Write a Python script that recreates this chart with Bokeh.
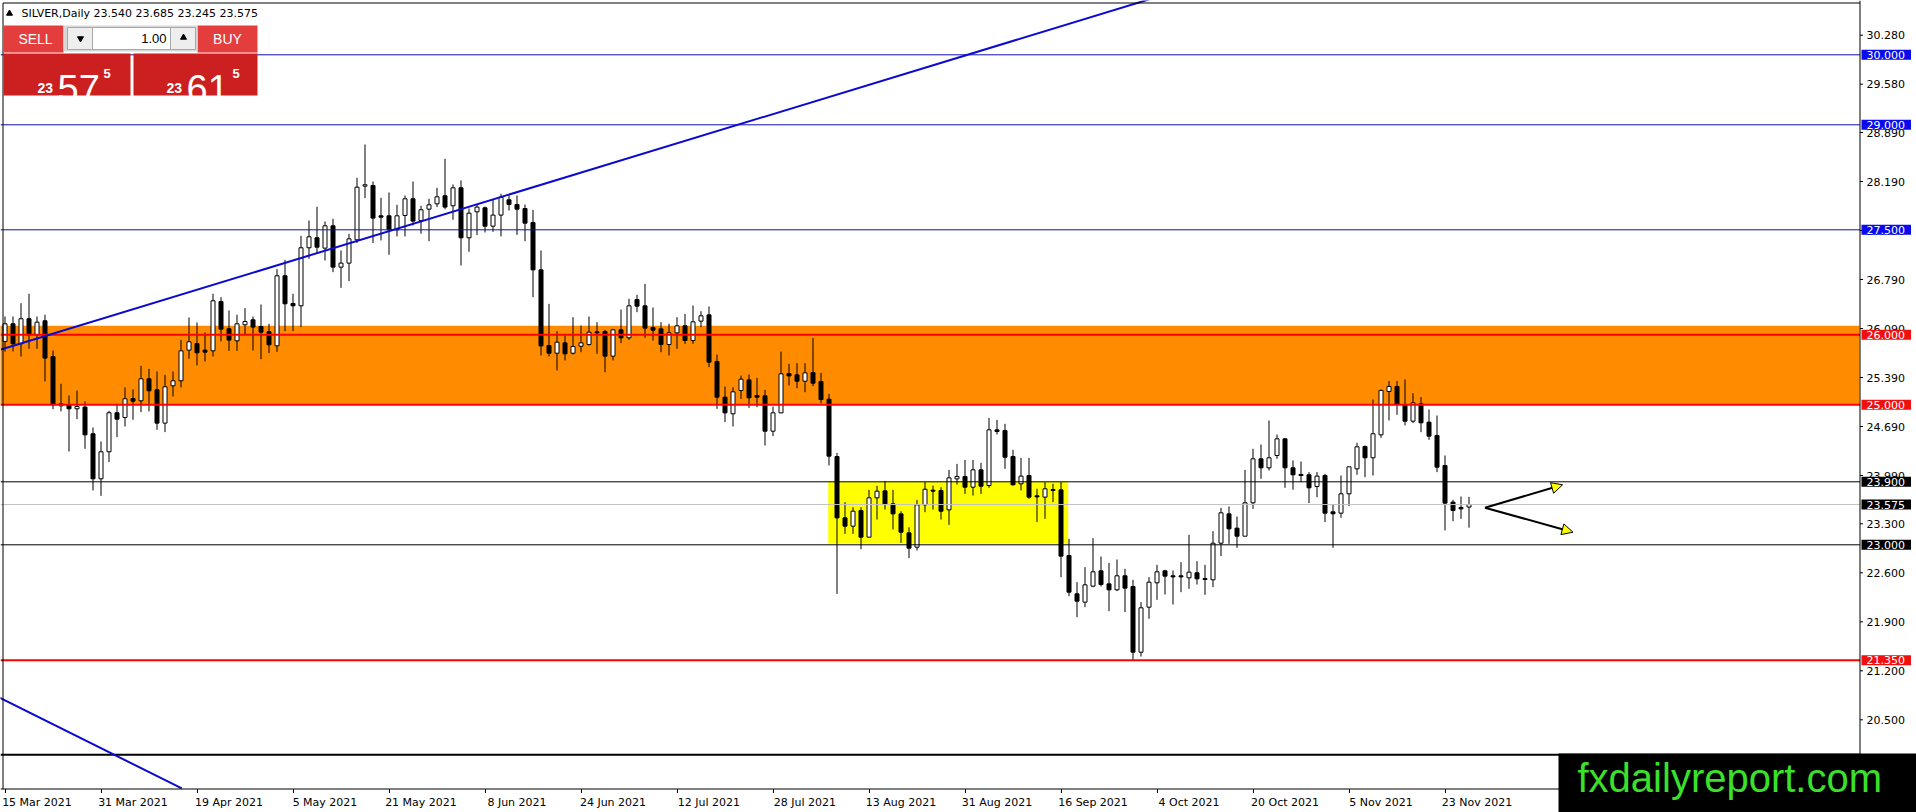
from bokeh.plotting import figure
from bokeh.models import Range1d, FixedTicker, PrintfTickFormatter, Label, Arrow, NormalHead, ColumnDataSource
from bokeh.core.properties import value
from bokeh.embed import file_html
from bokeh.resources import INLINE

# SILVER daily bars, 15 Mar 2021 .. 26 Nov 2021 (bar index = position)
opens = [25.905, 26.157, 25.872, 26.229, 26.000, 26.200, 25.690, 24.986, 25.000, 24.943,
         24.967, 24.586, 23.943, 24.329, 24.886, 24.819, 25.090, 25.057, 25.371, 25.214,
         24.738, 25.271, 25.343, 25.781, 25.876, 25.781, 25.771, 26.476, 26.086, 25.914,
         26.143, 26.214, 26.119, 26.043, 25.843, 26.843, 26.448, 26.414, 27.243, 27.386,
         27.238, 27.557, 26.967, 27.024, 27.357, 28.124, 28.133, 27.700, 27.700, 27.500,
         27.705, 27.943, 27.633, 27.795, 27.871, 27.986, 27.843, 28.100, 27.386, 27.757,
         27.814, 27.552, 27.710, 27.928, 27.861, 27.804, 27.604, 26.928, 25.847, 25.737,
         25.885, 25.737, 25.837, 25.861, 26.042, 26.047, 25.695, 26.071, 25.957, 26.504,
         26.414, 26.104, 26.085, 25.861, 26.028, 26.128, 25.918, 26.195, 26.285, 25.618,
         25.109, 24.871, 25.204, 25.356, 25.133, 25.128, 24.623, 24.885, 25.447, 25.428,
         25.337, 25.461, 25.333, 25.080, 24.261, 23.385, 23.266, 23.490, 23.109, 23.671,
         23.771, 23.585, 23.442, 23.171, 22.966, 23.571, 23.780, 23.775, 23.499, 23.942,
         23.975, 23.823, 24.071, 23.847, 24.642, 24.633, 24.262, 23.871, 23.990, 23.700,
         23.681, 23.776, 23.785, 22.847, 22.300, 22.181, 22.409, 22.628, 22.442, 22.357,
         22.557, 22.404, 21.466, 22.109, 22.457, 22.628, 22.557, 22.557, 22.528, 22.600,
         22.519, 22.500, 23.023, 23.442, 23.238, 23.123, 23.600, 24.228, 24.100, 24.276,
         24.514, 24.100, 24.005, 24.000, 23.833, 23.990, 23.471, 23.452, 23.728, 24.085,
         24.405, 24.243, 24.571, 25.190, 25.262, 25.005, 24.766, 25.014, 24.752, 24.562,
         24.133, 23.610, 23.533, 23.540]
highs = [26.262, 26.262, 26.452, 26.586, 26.262, 26.286, 25.776, 25.300, 25.133, 25.205,
         25.048, 24.676, 24.476, 24.914, 25.014, 25.248, 25.219, 25.557, 25.514, 25.476,
         25.429, 25.476, 25.929, 26.248, 26.176, 26.033, 26.586, 26.538, 26.348, 26.286,
         26.381, 26.262, 26.433, 26.157, 26.938, 27.071, 26.586, 27.414, 27.633, 27.829,
         27.619, 27.657, 27.205, 27.443, 28.243, 28.719, 28.190, 27.957, 28.033, 27.857,
         27.990, 28.190, 27.843, 27.943, 28.100, 28.514, 28.148, 28.205, 27.805, 27.862,
         27.833, 27.938, 28.014, 27.990, 27.990, 27.861, 27.785, 27.204, 26.442, 26.052,
         25.990, 26.252, 26.133, 26.261, 26.180, 26.071, 26.085, 26.361, 26.514, 26.571,
         26.728, 26.390, 26.180, 26.157, 26.252, 26.299, 26.418, 26.337, 26.404, 25.718,
         25.261, 25.252, 25.418, 25.433, 25.385, 25.214, 24.975, 25.761, 25.585, 25.595,
         25.595, 25.956, 25.456, 25.156, 24.313, 23.609, 23.537, 23.537, 23.785, 23.842,
         23.909, 23.785, 23.480, 23.251, 23.642, 23.899, 23.847, 23.823, 24.071, 24.156,
         24.213, 24.213, 24.171, 24.813, 24.785, 24.728, 24.357, 24.242, 24.242, 23.800,
         23.895, 23.871, 23.895, 23.085, 22.466, 22.681, 23.095, 22.833, 22.742, 22.790,
         22.657, 22.500, 22.181, 22.538, 22.714, 22.642, 22.633, 22.752, 23.142, 22.766,
         22.714, 23.195, 23.528, 23.547, 23.404, 24.071, 24.371, 24.433, 24.776, 24.576,
         24.524, 24.205, 24.190, 24.038, 24.038, 24.014, 23.576, 23.990, 24.114, 24.457,
         24.419, 25.076, 25.219, 25.338, 25.338, 25.362, 25.166, 25.109, 24.933, 24.847,
         24.276, 23.643, 23.690, 23.685]
lows = [25.760, 25.762, 25.690, 25.800, 25.800, 25.333, 24.938, 24.905, 24.333, 24.795,
        24.371, 23.776, 23.700, 24.181, 24.538, 24.690, 24.786, 24.895, 24.905, 24.643,
        24.610, 25.119, 25.248, 25.657, 25.562, 25.619, 25.690, 25.905, 25.771, 25.771,
        26.000, 25.776, 25.652, 25.738, 25.757, 26.052, 26.052, 26.110, 27.086, 27.157,
        27.062, 26.895, 26.671, 26.767, 27.310, 27.952, 27.310, 27.348, 27.143, 27.405,
        27.405, 27.562, 27.443, 27.338, 27.824, 27.795, 27.643, 26.990, 27.186, 27.424,
        27.462, 27.471, 27.405, 27.775, 27.428, 27.338, 26.537, 25.704, 25.690, 25.490,
        25.633, 25.718, 25.752, 25.847, 25.728, 25.466, 25.633, 25.880, 25.928, 26.323,
        25.957, 25.918, 25.752, 25.704, 25.799, 25.871, 25.871, 26.109, 25.537, 24.942,
        24.752, 24.690, 25.085, 24.956, 24.966, 24.418, 24.552, 24.880, 25.275, 25.237,
        25.180, 25.266, 25.023, 24.133, 22.299, 23.156, 23.156, 22.937, 23.109, 23.361,
        23.504, 23.218, 23.028, 22.809, 22.918, 23.466, 23.504, 23.361, 23.285, 23.861,
        23.728, 23.704, 23.728, 23.814, 24.575, 24.085, 23.847, 23.776, 23.657, 23.324,
        23.371, 23.609, 22.538, 22.266, 21.966, 22.109, 22.395, 22.404, 22.052, 22.338,
        22.038, 21.347, 21.404, 21.943, 22.214, 22.290, 22.147, 22.323, 22.371, 22.433,
        22.285, 22.395, 22.838, 23.014, 22.957, 23.123, 23.514, 23.943, 24.062, 24.228,
        23.814, 23.786, 23.895, 23.595, 23.681, 23.324, 22.957, 23.386, 23.552, 24.000,
        23.966, 23.990, 24.528, 24.776, 24.857, 24.705, 24.738, 24.609, 24.500, 24.038,
        23.205, 23.338, 23.371, 23.245]
closes = [26.157, 25.872, 26.229, 26.000, 26.181, 25.667, 25.000, 25.014, 24.943, 24.976,
          24.571, 23.943, 24.329, 24.886, 24.795, 25.086, 25.052, 25.371, 25.200, 24.738,
          25.257, 25.343, 25.771, 25.900, 25.743, 25.752, 26.486, 26.081, 25.924, 26.157,
          26.190, 26.110, 26.038, 25.857, 26.843, 26.443, 26.414, 27.243, 27.400, 27.252,
          27.557, 26.967, 27.024, 27.371, 28.109, 28.143, 27.667, 27.681, 27.500, 27.700,
          27.943, 27.624, 27.786, 27.857, 27.971, 27.824, 28.100, 27.386, 27.738, 27.824,
          27.552, 27.710, 27.967, 27.861, 27.795, 27.595, 26.928, 25.842, 25.737, 25.895,
          25.728, 25.833, 25.885, 26.038, 26.028, 25.695, 26.071, 25.957, 26.414, 26.409,
          26.095, 26.066, 25.861, 26.028, 26.128, 25.918, 26.185, 26.271, 25.609, 25.109,
          24.885, 25.185, 25.366, 25.100, 25.109, 24.623, 24.885, 25.442, 25.413, 25.337,
          25.456, 25.309, 25.075, 24.266, 23.385, 23.266, 23.480, 23.109, 23.671, 23.766,
          23.585, 23.442, 23.180, 22.952, 23.571, 23.794, 23.766, 23.480, 23.956, 23.975,
          23.823, 24.071, 23.837, 24.642, 24.618, 24.251, 23.857, 23.981, 23.681, 23.685,
          23.800, 23.790, 22.838, 22.323, 22.195, 22.428, 22.614, 22.433, 22.357, 22.557,
          22.381, 21.466, 22.100, 22.466, 22.614, 22.552, 22.542, 22.542, 22.609, 22.514,
          22.504, 23.023, 23.457, 23.228, 23.123, 23.600, 24.228, 24.100, 24.243, 24.514,
          24.100, 24.000, 23.990, 23.814, 23.981, 23.452, 23.443, 23.728, 24.114, 24.400,
          24.243, 24.586, 25.205, 25.262, 25.005, 24.766, 25.028, 24.743, 24.552, 24.109,
          23.595, 23.490, 23.514, 23.575]

tick_bars = [0, 12, 24, 36, 48, 60, 72, 84, 96, 108, 120, 132, 144, 156, 168, 180]
tick_labels = ["15 Mar 2021", "31 Mar 2021", "19 Apr 2021", "5 May 2021", "21 May 2021",
               "8 Jun 2021", "24 Jun 2021", "12 Jul 2021", "28 Jul 2021", "13 Aug 2021",
               "31 Aug 2021", "16 Sep 2021", "4 Oct 2021", "20 Oct 2021", "5 Nov 2021",
               "23 Nov 2021"]
price_ticks = [30.28, 29.58, 28.89, 28.19, 27.49, 26.79, 26.09, 25.39, 24.69, 23.99,
               23.30, 22.60, 21.90, 21.20, 20.50]

# horizontal levels drawn on the chart
levels = [30.0, 29.0, 27.5, 26.0, 25.0, 23.9, 23.575, 23.0, 21.35, 20.0]
level_colors = ["#1010b0", "#1010b0", "#1010b0", "red", "red", "black", "#c0c0c0", "black", "red", "black"]
level_widths = [1, 1, 1, 2, 2, 1, 1, 1, 2, 2]
badge_colors = ["#0a0aee", "#0a0aee", "#0a0aee", "#f01010", "#f01010", "black", "black", "black", "#f01010", None]

# zones: (left bar, right bar, bottom price, top price)
orange_zone = (-5, 231.8, 25.0, 26.13)
yellow_zone = (102.9, 132.9, 23.02, 23.9)

# trend lines (bar, price) -> (bar, price)
trend_x0 = [-0.5, -2.0]
trend_y0 = [25.79, 20.891]
trend_x1 = [150.0, 22.1]
trend_y1 = [31.035, 19.52]

# the two drawn arrows
arrow_x0 = [185.0, 185.0]
arrow_y0 = [23.53, 23.53]
arrow_x1 = [194.7, 196.0]
arrow_y1 = [23.857, 23.18]

bid = 23.575
ask = 23.615
lot = "1.00"

W, H = 1916, 812
CHART_R, CHART_B = 1859.5, 788.5   # price scale line / time scale line, canvas pixels


def px(xp):
    # canvas pixel -> bar position
    return (xp - 4.5) / 8


def py(yp):
    # canvas pixel -> price
    return 30.0 - (yp - 54.3) / 70


p = figure(width=W, height=H, output_backend="svg", toolbar_location=None,
           x_range=Range1d(px(0), px(W)), y_range=Range1d(py(H), py(0)),
           y_axis_location="right", title=None, min_border=0)
p.outline_line_color = None
p.background_fill_color = "white"
p.border_fill_color = "white"
p.grid.visible = False

p.quad(left=[orange_zone[0]], right=[orange_zone[1]], bottom=[orange_zone[2]], top=[orange_zone[3]],
       fill_color="#ff8c00", line_color=None)
p.quad(left=[yellow_zone[0]], right=[yellow_zone[1]], bottom=[yellow_zone[2]], top=[yellow_zone[3]],
       fill_color="#ffff00", line_color=None)

src = ColumnDataSource(dict(
    x=list(range(len(opens))), h=highs, l=lows,
    top=[max(o, c) for o, c in zip(opens, closes)],
    bottom=[min(o, c) for o, c in zip(opens, closes)],
    fill=["white" if c >= o else "black" for o, c in zip(opens, closes)],
))
p.segment(x0="x", y0="h", x1="x", y1="l", source=src, line_color="black", line_width=1)
p.vbar(x="x", top="top", bottom="bottom", width=0.5, source=src,
       fill_color="fill", line_color="black", line_width=1)

p.segment(x0=[px(0)] * len(levels), y0=levels, x1=[px(CHART_R)] * len(levels), y1=levels,
          line_color=level_colors, line_width=level_widths)
p.segment(x0=trend_x0, y0=trend_y0, x1=trend_x1, y1=trend_y1, line_color="#0a0ad0", line_width=2)

for xs, ys, xe, ye in zip(arrow_x0, arrow_y0, arrow_x1, arrow_y1):
    p.add_layout(Arrow(end=NormalHead(size=11, fill_color="yellow", line_color="black", line_width=1),
                       x_start=xs, y_start=ys, x_end=xe, y_end=ye,
                       line_color="black", line_width=2))

# chart frame, price scale and time scale lines with their ticks
p.segment(x0=[px(2.5), px(2.5), px(CHART_R), px(0)],
          y0=[py(2.5), py(2.5), py(0), py(CHART_B)],
          x1=[px(CHART_R), px(2.5), px(CHART_R), px(CHART_R)],
          y1=[py(2.5), py(CHART_B), py(CHART_B), py(CHART_B)],
          line_color="black", line_width=1)
p.segment(x0=[px(CHART_R)] * len(price_ticks), y0=price_ticks,
          x1=[px(CHART_R + 3)] * len(price_ticks), y1=price_ticks, line_color="black")
p.segment(x0=[b + 0.0625 for b in tick_bars], y0=[py(CHART_B)] * len(tick_bars),
          x1=[b + 0.0625 for b in tick_bars], y1=[py(CHART_B + 4)] * len(tick_bars), line_color="black")

# one-click trading panel
p.quad(left=[px(3), px(197)], right=[px(63), px(257)], top=[py(25), py(25)], bottom=[py(52), py(52)],
       fill_color="#e33d3d", line_color=None)
p.quad(left=[px(63)], right=[px(197)], top=[py(25)], bottom=[py(51)],
       fill_color="#d8d8d8", line_color=None)
p.quad(left=[px(67), px(92), px(170)], right=[px(92), px(170), px(195)],
       top=[py(27)] * 3, bottom=[py(49)] * 3,
       fill_color=["#eeeeee", "white", "#eeeeee"], line_color="#a8a8a8")
p.quad(left=[px(3), px(133)], right=[px(130), px(257)], top=[py(53), py(53)], bottom=[py(95), py(95)],
       fill_color="#cc1f1f", line_color=None)
p.segment(x0=[px(10), px(200)], y0=[py(52)] * 2, x1=[px(62), px(255)], y1=[py(52)] * 2,
          line_color="#f09090", line_width=1)
p.scatter(x=[px(80), px(183)], y=[py(38), py(37)], marker=["inverted_triangle", "triangle"],
          size=6, color="black")
p.text(x=[px(35), px(227)], y=[py(38), py(38)], text=["SELL", "BUY"],
       text_font=value("Liberation Sans"), text_font_size="14px", text_color="white",
       text_align="center", text_baseline="middle")
p.text(x=[px(166)], y=[py(38)], text=[lot], text_font=value("Liberation Sans"),
       text_font_size="13px", text_color="black", text_align="right", text_baseline="middle")

for price, x0 in [(bid, 37), (ask, 166)]:
    s = f"{price:.3f}"
    big, pip = s.split(".")[1][:2], s[-1]
    p.text(x=[px(x0)], y=[py(87)], text=[s[:2]], text_font=value("Liberation Sans"),
           text_font_size="14px", text_font_style="bold", text_color="white", text_baseline="alphabetic")
    p.text(x=[px(x0 + 20)], y=[py(88)], text=[big], text_font=value("Liberation Sans"),
           text_font_size="38px", text_color="white", text_baseline="alphabetic")
    p.text(x=[px(x0 + 66)], y=[py(73)], text=[pip], text_font=value("Liberation Sans"),
           text_font_size="13px", text_font_style="bold", text_color="white", text_baseline="alphabetic")

p.scatter(x=[px(9)], y=[py(13)], marker="triangle", size=6, color="black")
p.add_layout(Label(x=px(21), y=py(13),
                   text=f"SILVER,Daily  {opens[-1]:.3f} {highs[-1]:.3f} {lows[-1]:.3f} {closes[-1]:.3f}",
                   text_font="DejaVu Sans", text_font_size="11px", text_color="black",
                   text_baseline="middle"))

# axes: the frame fills the canvas, labels are pulled back inside it
p.xaxis.ticker = FixedTicker(ticks=[b + 4 for b in tick_bars])
p.xaxis.major_label_overrides = {b + 4: lab for b, lab in zip(tick_bars, tick_labels)}
p.xaxis.axis_line_color = None
p.xaxis.major_tick_line_color = None
p.xaxis.minor_tick_line_color = None
p.xaxis.major_tick_out = 0
p.xaxis.major_tick_in = 0
p.xaxis.minor_tick_out = 0
p.xaxis.minor_tick_in = 0
p.xaxis.major_label_standoff = -(H - 795)
p.xaxis.major_label_text_font = "DejaVu Sans"
p.xaxis.major_label_text_font_size = "11px"
p.xaxis.major_label_text_color = "black"

p.yaxis.ticker = FixedTicker(ticks=price_ticks)
p.yaxis.formatter = PrintfTickFormatter(format="%.3f")
p.yaxis.axis_line_color = None
p.yaxis.major_tick_line_color = None
p.yaxis.minor_tick_line_color = None
p.yaxis.major_tick_out = 0
p.yaxis.major_tick_in = 0
p.yaxis.minor_tick_out = 0
p.yaxis.minor_tick_in = 0
p.yaxis.major_label_standoff = -(W - 1866)
p.yaxis.major_label_text_font = "DejaVu Sans"
p.yaxis.major_label_text_font_size = "11px"
p.yaxis.major_label_text_color = "black"

# price tags on the scale
for lvl, col in zip(levels, badge_colors):
    if col is None:
        continue
    p.add_layout(Label(x=px(1861), y=lvl, text=f"{lvl:.3f}", text_font="DejaVu Sans",
                       text_font_size="11px", text_color="white", text_baseline="middle",
                       background_fill_color=col,
                       padding=dict(left=5, right=6, top=1, bottom=1)))

p.add_layout(Label(x=px(1558), y=py(787), text="fxdailyreport.com", text_font="Liberation Sans",
                   text_font_size="40px", text_color="#3be02b", text_baseline="alphabetic",
                   background_fill_color="black",
                   padding=dict(left=19, right=40, top=2, bottom=22)))

open("out.html", "w").write(file_html(p, INLINE))
